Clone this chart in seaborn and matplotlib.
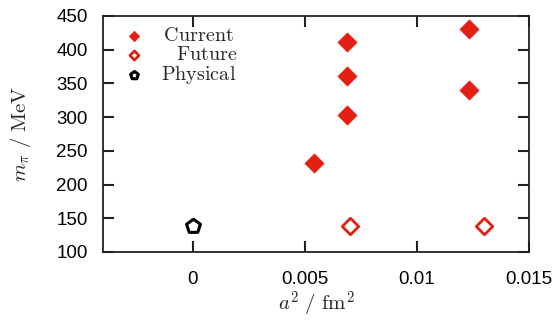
import matplotlib
matplotlib.use("Agg")
import matplotlib.pyplot as plt
import seaborn as sns
import pandas as pd

# Data
current_a2 = [0.0054, 0.0069, 0.0069, 0.0069, 0.0123, 0.0123]
current_mpi = [232, 303, 361, 411, 431, 340]
future_a2 = [0.0070, 0.0130]
future_mpi = [139, 139]
physical_a2 = [0.0]
physical_mpi = [138]

x_ticks = [0, 0.005, 0.01, 0.015]
x_ticklabels = ["0", "0.005", "0.01", "0.015"]
y_ticks = [100, 150, 200, 250, 300, 350, 400, 450]

sns.set_style("ticks", {"xtick.direction": "in", "ytick.direction": "in"})
plt.rcParams["font.family"] = ["Liberation Sans", "DejaVu Sans"]
plt.rcParams["mathtext.fontset"] = "cm"
plt.rcParams.update({
    "xtick.major.size": 8, "ytick.major.size": 8,
    "xtick.major.width": 1.5, "ytick.major.width": 1.5,
    "xtick.color": "#222222", "ytick.color": "#222222",
    "xtick.labelcolor": "black", "ytick.labelcolor": "black",
    "xtick.major.pad": 14, "ytick.major.pad": 11,
    "xtick.labelsize": 13.5, "ytick.labelsize": 13.5,
    "xtick.top": True, "ytick.right": True,
    "xtick.bottom": True, "ytick.left": True,
})

red = "#e41e12"

fig, ax = plt.subplots(figsize=(5.57, 3.26), dpi=100)
fig.subplots_adjust(left=0.185, right=0.950, top=0.951, bottom=0.227)

df_c = pd.DataFrame({"a2": current_a2, "m": current_mpi})
df_f = pd.DataFrame({"a2": future_a2, "m": future_mpi})
df_p = pd.DataFrame({"a2": physical_a2, "m": physical_mpi})

sns.scatterplot(data=df_c, x="a2", y="m", marker="D", s=95, color=red,
                edgecolor=red, linewidth=0.5,
                label=r"$\hspace{0.15}\mathrm{Current}$", ax=ax, zorder=3)
sns.scatterplot(data=df_f, x="a2", y="m", marker="D", s=70, facecolor="white",
                edgecolor=red, linewidth=2.0,
                label=r"$\hspace{0.85}\mathrm{Future}$", ax=ax, zorder=3)
sns.scatterplot(data=df_p, x="a2", y="m", marker="p", s=110, facecolor="white",
                edgecolor="black", linewidth=2.2,
                label=r"$\mathrm{Physical}$", ax=ax, zorder=3)

ax.set_xlim(-0.004, 0.015)
ax.set_ylim(100, 450)
ax.set_xticks(x_ticks)
ax.set_xticklabels(x_ticklabels)
ax.set_yticks(y_ticks)
for sp in ax.spines.values():
    sp.set_visible(True)
    sp.set_color("#222222")
    sp.set_linewidth(1.3)

ax.set_xlabel(r"$a^2\ /\ \mathrm{fm}^2$", fontsize=15, labelpad=1)
ax.set_ylabel(r"$m_\pi\ /\ \mathrm{MeV}$", fontsize=15, labelpad=17)

leg = ax.legend(loc="upper left", bbox_to_anchor=(0.012, 1.0), frameon=False,
                handlelength=1.6, handletextpad=0.5, labelspacing=0.0,
                borderpad=0.0, markerscale=0.55, prop={"size": 14.5})

fig.savefig("out.png", dpi=100)
